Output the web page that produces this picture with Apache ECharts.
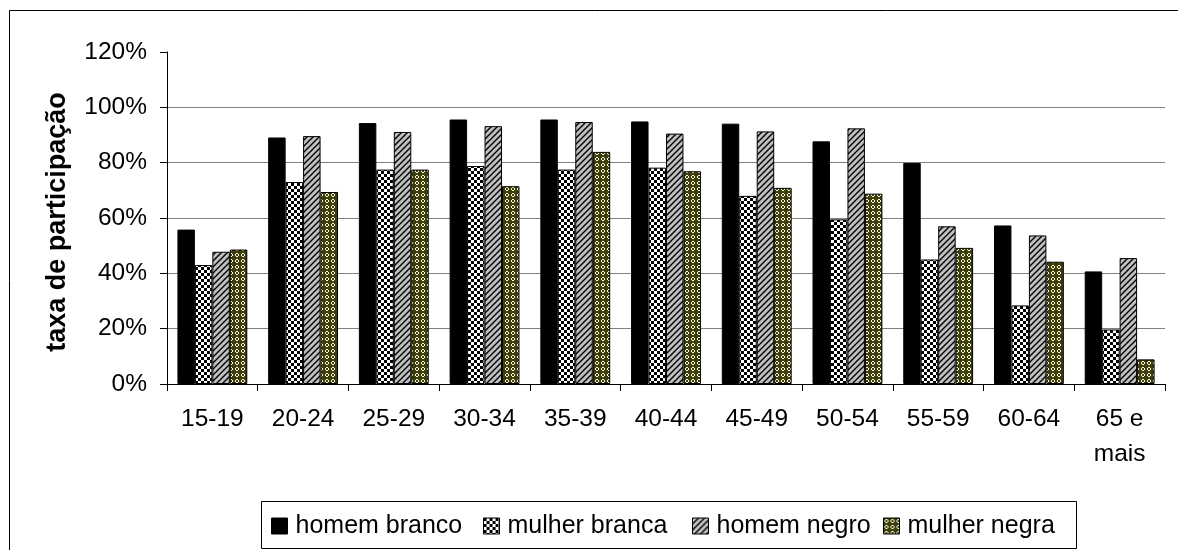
<!DOCTYPE html>
<html>
<head>
<meta charset="utf-8">
<title>Taxa de participação por idade, sexo e raça</title>
<script src="https://cdn.jsdelivr.net/npm/echarts@6/dist/echarts.min.js"></script>
<style>
  html, body { margin: 0; padding: 0; background: #fff; }
  #chart { width: 1178px; height: 550px; }
</style>
</head>
<body>
<div id="chart"></div>
<script>
// Faixas etárias
const categories = ['15-19', '20-24', '25-29', '30-34', '35-39', '40-44', '45-49', '50-54', '55-59', '60-64', '65 e\nmais'];

// Taxa de participação (%) por grupo
const homemBranco  = [55.8, 89.1, 94.3, 95.6, 95.6, 94.9, 94.1, 87.7, 79.9, 57.3, 40.7];
const mulherBranca = [43.0, 73.0, 77.5, 78.8, 77.5, 78.2, 68.0, 59.5, 45.0, 28.4, 19.7];
const homemNegro   = [47.8, 89.6, 91.1, 93.2, 94.7, 90.5, 91.3, 92.4, 57.0, 53.7, 45.5];
const mulherNegra  = [48.6, 69.4, 77.5, 71.5, 83.9, 76.9, 70.9, 68.8, 49.2, 44.2, 8.9];

const seriesNames = ['homem branco', 'mulher branca', 'homem negro', 'mulher negra'];

const FONT = "'Liberation Sans', Arial, sans-serif";

// Fill patterns drawn on small tiles
function tile(size, draw) {
  const c = document.createElement('canvas');
  c.width = size; c.height = size;
  draw(c.getContext('2d'), size);
  return { image: c, repeat: 'repeat' };
}

const checker = tile(6, (g) => {
  g.fillStyle = '#ffffff'; g.fillRect(0, 0, 6, 6);
  g.fillStyle = '#000000';
  g.fillRect(0, 0, 3, 3);
  g.fillRect(3, 3, 3, 3);
});

const hatch = tile(6, (g, s) => {
  g.fillStyle = '#c0c0c0'; g.fillRect(0, 0, s, s);
  g.strokeStyle = '#000000'; g.lineWidth = 1.4;
  g.beginPath();
  g.moveTo(-1, s + 1); g.lineTo(s + 1, -1);
  g.moveTo(-1, 1); g.lineTo(1, -1);
  g.moveTo(s - 1, s + 1); g.lineTo(s + 1, s - 1);
  g.stroke();
});

// small cream rings on dark olive
const rings = tile(6, (g) => {
  g.fillStyle = '#3e3e0c'; g.fillRect(0, 0, 6, 6);
  g.fillStyle = '#fbfbdc';
  [[2, 1], [3, 1], [1, 2], [4, 2], [1, 3], [4, 3], [2, 4], [3, 4]].forEach(([x, y]) => g.fillRect(x, y, 1, 1));
});

const fills = ['#000000', checker, hatch, rings];
const data = [homemBranco, mulherBranca, homemNegro, mulherNegra];

// Legend entries: icon x positions inside the framed legend box
const legendLeft = [271, 483, 692, 883];

const chart = echarts.init(document.getElementById('chart'), null, { renderer: 'canvas' });

chart.setOption({
  animation: false,
  backgroundColor: '#ffffff',
  textStyle: { fontFamily: FONT },
  grid: { left: 167, right: 13, top: 52, bottom: 166 },
  graphic: [
    {
      type: 'rect',
      shape: { x: 9.5, y: 10.5, width: 1200, height: 600 },
      style: { fill: null, stroke: '#000', lineWidth: 1 },
      silent: true
    },
    {
      type: 'rect',
      shape: { x: 261.5, y: 501.5, width: 815, height: 47 },
      style: { fill: null, stroke: '#000', lineWidth: 1 },
      silent: true
    },
    {
      type: 'text',
      x: 58, y: 222,
      rotation: Math.PI / 2,
      style: {
        text: 'taxa de participação',
        font: "bold 27px 'Liberation Sans', Arial, sans-serif",
        fill: '#000',
        textAlign: 'center',
        textVerticalAlign: 'middle'
      }
    }
  ],
  legend: seriesNames.map((name, i) => ({
    left: legendLeft[i], top: 512,
    itemWidth: 16, itemHeight: 16,
    padding: 0,
    icon: 'rect',
    textStyle: { fontFamily: FONT, fontSize: 25, color: '#000', lineHeight: 28, padding: [0, 0, 0, 3] },
    itemStyle: { borderColor: '#000', borderWidth: 1 },
    data: [name]
  })),
  xAxis: {
    type: 'category',
    data: categories,
    axisLine: { lineStyle: { color: '#000', width: 1 } },
    axisTick: { show: true, length: 7, lineStyle: { color: '#000' } },
    axisLabel: { color: '#000', fontSize: 24.5, fontFamily: FONT, margin: 18, lineHeight: 35, interval: 0 }
  },
  yAxis: {
    type: 'value',
    min: 0, max: 120, interval: 20,
    axisLine: { show: true, lineStyle: { color: '#000', width: 1 } },
    axisTick: { show: true, length: 7, lineStyle: { color: '#000' } },
    axisLabel: { color: '#000', fontSize: 24.5, fontFamily: FONT, margin: 20, formatter: '{value}%' },
    splitLine: { show: true, showMaxLine: false, lineStyle: { color: '#808080', width: 1 } }
  },
  series: seriesNames.map((name, i) => ({
    name: name,
    type: 'bar',
    data: data[i],
    barGap: '0%',
    barCategoryGap: '23%',
    itemStyle: { color: fills[i], borderColor: '#000', borderWidth: 1 }
  }))
});
</script>
</body>
</html>
